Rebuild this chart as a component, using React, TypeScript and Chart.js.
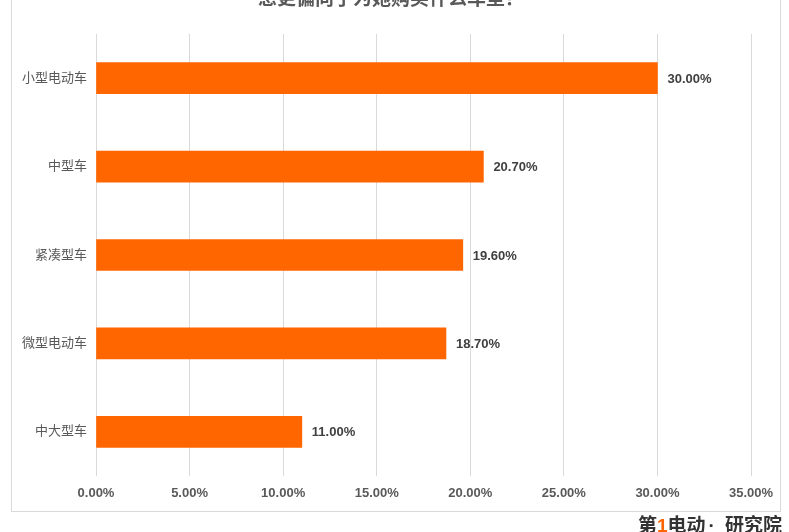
import React, { useEffect, useRef } from "react";
import { Chart, registerables } from "chart.js";

Chart.register(...registerables);

const title = "您更偏向于为她购买什么车型？";
const categories = ["小型电动车", "中型车", "紧凑型车", "微型电动车", "中大型车"];
const values = [30.0, 20.7, 19.6, 18.7, 11.0];
const xTicksMax = 35;
const xTickStep = 5;

const FONT = '"Liberation Sans", "Noto Sans CJK SC", sans-serif';

export default function App() {
  const ref = useRef<HTMLCanvasElement | null>(null);

  useEffect(() => {
    document.body.style.margin = "0";
    const canvas = ref.current;
    if (!canvas) return;

    const decor = {
      id: "decor",
      beforeDraw(chart: any) {
        const ctx = chart.ctx;
        ctx.save();
        ctx.fillStyle = "#ffffff";
        ctx.fillRect(0, 0, chart.width, chart.height);
        ctx.strokeStyle = "#d9d9d9";
        ctx.lineWidth = 1;
        ctx.strokeRect(11.5, -2, 769, 513.5);
        ctx.restore();
      },
      afterDraw(chart: any) {
        const ctx = chart.ctx;
        ctx.save();
        // title (cut off at the top)
        ctx.font = `bold 19px ${FONT}`;
        ctx.fillStyle = "#595959";
        ctx.textAlign = "center";
        ctx.textBaseline = "middle";
        ctx.fillText(title, 391, 0);
        // logo text at bottom right (partially visible)
        ctx.textAlign = "left";
        ctx.textBaseline = "top";
        ctx.font = `bold 19px ${FONT}`;
        let x = 638;
        const parts: [string, string][] = [["第", "#333333"], ["1", "#ff6600"], ["电动", "#333333"]];
        for (const [t, c] of parts) {
          ctx.fillStyle = c;
          ctx.fillText(t, x, 517);
          x += ctx.measureText(t).width;
        }
        ctx.fillStyle = "#333333";
        ctx.fillText("·", x + 3, 517);
        ctx.fillText("研究院", 725, 517);
        ctx.restore();
      },
      afterDatasetsDraw(chart: any) {
        const ctx = chart.ctx;
        const meta = chart.getDatasetMeta(0);
        ctx.save();
        ctx.font = `bold 13px ${FONT}`;
        ctx.fillStyle = "#404040";
        ctx.textAlign = "left";
        ctx.textBaseline = "middle";
        meta.data.forEach((el: any, i: number) => {
          ctx.fillText(`${values[i].toFixed(2)}%`, el.x + 10, el.y + 1);
        });
        ctx.restore();
      },
    };

    const chart = new Chart(canvas, {
      type: "bar",
      data: {
        labels: categories,
        datasets: [
          {
            data: values,
            backgroundColor: "#ff6600",
            borderWidth: 0,
            barThickness: 31,
          },
        ],
      },
      options: {
        indexAxis: "y",
        responsive: false,
        animation: false,
        layout: { padding: { left: 0, right: 38, top: 34, bottom: 0 } },
        plugins: {
          legend: { display: false },
          tooltip: { enabled: false },
          title: { display: false },
        },
        scales: {
          x: {
            min: 0,
            max: xTicksMax,
            ticks: {
              stepSize: xTickStep,
              padding: 10,
              color: "#595959",
              font: { family: FONT, size: 13, weight: "bold" },
              callback: (v: any) => `${Number(v).toFixed(2)}%`,
            },
            grid: { color: "#d9d9d9", drawTicks: false, tickLength: 0 },
            border: { display: false },
            afterFit: (s: any) => {
              s.height = 56;
            },
          },
          y: {
            ticks: {
              padding: 9,
              color: "#595959",
              font: { family: FONT, size: 13 },
            },
            grid: { display: false, drawTicks: false },
            border: { display: false },
            afterFit: (s: any) => {
              s.width = 96;
            },
          },
        },
      },
      plugins: [decor],
    });

    return () => chart.destroy();
  }, []);

  return <canvas ref={ref} width={789} height={532} style={{ display: "block" }} />;
}
